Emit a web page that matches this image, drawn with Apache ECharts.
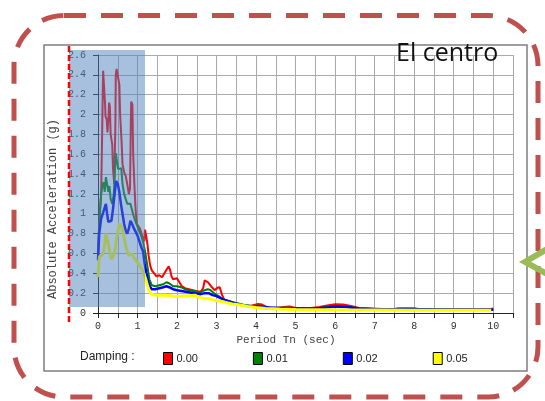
<!DOCTYPE html>
<html>
<head>
<meta charset="utf-8">
<script src="https://cdn.jsdelivr.net/npm/echarts@6/dist/echarts.min.js"></script>
<style>
  html, body { margin: 0; padding: 0; background: #fff; }
  #chart { width: 545px; height: 401px; }
</style>
</head>
<body>
<div id="chart"></div>
<script>
// Response spectra, El Centro record: [period (s), absolute acceleration (g)]
const damping000 = [[0,0.58],[0.02,0.75],[0.05,1.05],[0.08,1.2],[0.1,1.68],[0.12,2.2],[0.13,2.44],[0.17,2.42],[0.18,2.1],[0.19,1.98],[0.22,1.95],[0.24,1.82],[0.27,2.0],[0.28,2.12],[0.30,2.08],[0.32,1.8],[0.36,1.7],[0.38,1.45],[0.41,1.3],[0.44,1.9],[0.45,2.4],[0.47,2.46],[0.52,2.45],[0.54,2.3],[0.56,2.0],[0.58,1.85],[0.60,1.7],[0.62,1.5],[0.66,1.42],[0.70,1.38],[0.74,1.3],[0.78,1.2],[0.81,1.25],[0.83,1.9],[0.84,2.13],[0.87,2.1],[0.89,1.6],[0.92,1.3],[0.95,1.05],[0.98,0.9],[1.02,0.92],[1.06,0.85],[1.10,0.8],[1.14,0.75],[1.17,0.72],[1.19,0.84],[1.22,0.82],[1.25,0.7],[1.28,0.58],[1.32,0.48],[1.36,0.43],[1.42,0.40],[1.48,0.37],[1.55,0.38],[1.62,0.36],[1.68,0.40],[1.74,0.44],[1.79,0.47],[1.82,0.44],[1.86,0.37],[1.9,0.34],[1.95,0.33],[2.0,0.35],[2.05,0.33],[2.12,0.27],[2.2,0.25],[2.3,0.24],[2.4,0.23],[2.5,0.22],[2.6,0.215],[2.66,0.25],[2.7,0.33],[2.78,0.31],[2.86,0.27],[2.95,0.23],[3.02,0.255],[3.08,0.26],[3.14,0.18],[3.2,0.13],[3.3,0.12],[3.45,0.10],[3.6,0.085],[3.8,0.065],[3.95,0.08],[4.05,0.09],[4.15,0.085],[4.3,0.055],[4.5,0.05],[4.7,0.06],[4.85,0.065],[5.0,0.05],[5.3,0.045],[5.6,0.06],[5.8,0.075],[6.0,0.088],[6.2,0.085],[6.4,0.07],[6.6,0.05],[6.9,0.045],[7.2,0.04],[7.5,0.04],[7.6,0.048],[8.0,0.048],[8.1,0.04],[9.0,0.035],[9.9,0.035],[10,0.045]];
const damping001 = [[0,0.6],[0.02,0.8],[0.05,1.0],[0.08,1.2],[0.11,1.28],[0.14,1.32],[0.17,1.22],[0.2,1.37],[0.23,1.3],[0.26,1.22],[0.29,1.28],[0.32,1.15],[0.36,1.1],[0.40,1.2],[0.43,1.45],[0.45,1.61],[0.48,1.6],[0.51,1.45],[0.55,1.47],[0.59,1.46],[0.62,1.3],[0.66,1.2],[0.7,1.15],[0.74,1.1],[0.78,1.12],[0.82,1.1],[0.86,1.04],[0.9,0.98],[0.95,0.92],[1.0,0.87],[1.05,0.82],[1.1,0.77],[1.15,0.70],[1.2,0.6],[1.25,0.47],[1.3,0.34],[1.36,0.28],[1.45,0.27],[1.55,0.28],[1.65,0.29],[1.73,0.31],[1.8,0.3],[1.9,0.27],[2.0,0.27],[2.1,0.26],[2.2,0.24],[2.32,0.23],[2.45,0.22],[2.6,0.21],[2.7,0.23],[2.78,0.24],[2.85,0.23],[2.95,0.195],[3.05,0.17],[3.15,0.14],[3.3,0.12],[3.5,0.10],[3.7,0.08],[3.9,0.07],[4.05,0.075],[4.2,0.06],[4.4,0.05],[4.8,0.055],[5.0,0.048],[5.5,0.045],[5.8,0.06],[6.0,0.07],[6.3,0.065],[6.6,0.045],[7.0,0.04],[8.0,0.04],[9.0,0.035],[10,0.035]];
const damping002 = [[0,0.53],[0.03,0.8],[0.08,0.95],[0.12,1.0],[0.16,1.05],[0.2,1.1],[0.23,1.0],[0.26,0.92],[0.3,0.9],[0.34,0.93],[0.38,1.05],[0.42,1.2],[0.46,1.33],[0.5,1.3],[0.54,1.22],[0.58,1.1],[0.62,1.0],[0.66,0.9],[0.7,0.83],[0.74,0.8],[0.78,0.85],[0.82,0.93],[0.86,0.9],[0.9,0.86],[0.95,0.82],[1.0,0.78],[1.05,0.72],[1.1,0.66],[1.14,0.62],[1.18,0.5],[1.22,0.41],[1.27,0.32],[1.31,0.27],[1.36,0.24],[1.45,0.24],[1.55,0.25],[1.65,0.26],[1.73,0.27],[1.8,0.26],[1.9,0.24],[2.0,0.23],[2.15,0.22],[2.3,0.21],[2.45,0.2],[2.6,0.19],[2.7,0.2],[2.8,0.2],[2.9,0.18],[3.0,0.17],[3.15,0.14],[3.3,0.12],[3.5,0.09],[3.7,0.075],[3.9,0.065],[4.1,0.065],[4.3,0.055],[4.6,0.05],[5.0,0.045],[5.5,0.045],[5.8,0.055],[6.0,0.065],[6.3,0.06],[6.6,0.045],[7.0,0.038],[8.0,0.036],[9.0,0.034],[10,0.033]];
const damping005 = [[0,0.36],[0.02,0.5],[0.04,0.57],[0.1,0.58],[0.14,0.62],[0.17,0.7],[0.2,0.8],[0.23,0.82],[0.26,0.7],[0.3,0.6],[0.34,0.54],[0.38,0.53],[0.42,0.6],[0.46,0.72],[0.5,0.82],[0.55,0.9],[0.59,0.92],[0.62,0.85],[0.66,0.76],[0.7,0.68],[0.74,0.62],[0.78,0.58],[0.82,0.6],[0.86,0.6],[0.9,0.56],[0.96,0.53],[1.0,0.51],[1.05,0.48],[1.1,0.45],[1.15,0.41],[1.2,0.35],[1.25,0.28],[1.3,0.22],[1.35,0.19],[1.45,0.18],[1.55,0.18],[1.7,0.18],[1.85,0.175],[1.95,0.165],[2.1,0.17],[2.3,0.175],[2.45,0.18],[2.55,0.16],[2.7,0.145],[2.85,0.14],[3.0,0.125],[3.2,0.11],[3.4,0.09],[3.6,0.08],[3.8,0.065],[4.0,0.055],[4.25,0.045],[4.6,0.04],[5.0,0.035],[6.0,0.032],[7.0,0.03],[8.0,0.028],[9.0,0.027],[9.95,0.027]];

const seriesNames = ['0.00', '0.01', '0.02', '0.05'];
const seriesColors = ['#ff0000', '#008000', '#0000ff', '#ffff00'];
const seriesWidths = [2, 2, 2.5, 3];
const seriesData = [damping000, damping001, damping002, damping005];

const titleText = 'El centro';
const xAxisTitle = 'Period Tn (sec)';
const yAxisTitle = 'Absolute Acceleration (g)';
const legendTitle = 'Damping :';

const mono = '"Liberation Mono", "DejaVu Sans Mono", monospace';
const sans = '"Liberation Sans", Arial, sans-serif';

const chart = echarts.init(document.getElementById('chart'), null, { renderer: 'canvas' });

chart.setOption({
  animation: false,
  backgroundColor: '#fff',
  grid: { left: 98, right: 32, top: 55, bottom: 88, containLabel: false },
  xAxis: {
    type: 'value', min: 0, max: 10.5, interval: 0.5,
    axisLine: { show: true, lineStyle: { color: '#222', width: 1 } },
    axisTick: { show: true, length: 5, lineStyle: { color: '#222' } },
    axisLabel: {
      margin: 8, fontFamily: mono, fontSize: 10, color: '#333',
      formatter: v => (Math.abs(v - Math.round(v)) < 1e-6 && v <= 10) ? String(Math.round(v)) : ''
    },
    splitLine: { show: true, lineStyle: { color: '#aaa', width: 1 } }
  },
  yAxis: {
    type: 'value', min: 0, max: 2.6, interval: 0.2,
    axisLine: { show: true, lineStyle: { color: '#222', width: 1 } },
    axisTick: { show: true, length: 5, lineStyle: { color: '#222' } },
    axisLabel: { margin: 12, fontFamily: mono, fontSize: 10, color: '#333' },
    splitLine: { show: true, lineStyle: { color: '#aaa', width: 1 } }
  },
  legend: {
    left: 163, top: 352, padding: 0,
    icon: 'rect', itemWidth: 9, itemHeight: 12, itemGap: 55,
    itemStyle: { borderColor: '#000', borderWidth: 1 },
    textStyle: { fontFamily: sans, fontSize: 11, color: '#222', padding: [0, 0, 0, -1] },
    data: seriesNames
  },
  series: seriesNames.map((name, i) => ({
    name: name,
    type: 'line',
    data: seriesData[i],
    showSymbol: false,
    symbol: 'none',
    color: seriesColors[i],
    lineStyle: { color: seriesColors[i], width: seriesWidths[i] },
    z: 2 + i
  })),
  graphic: [
    // dashed rounded frame around the panel
    { type: 'rect', z: -10, silent: true,
      shape: { x: 14, y: 15.5, width: 524, height: 381.5, r: 50 },
      style: { fill: 'none', stroke: '#c0504d', lineWidth: 5, lineDash: [22, 15] } },
    // panel border
    { type: 'rect', z: -5, silent: true,
      shape: { x: 44, y: 45, width: 483, height: 326 },
      style: { fill: '#fff', stroke: '#7f7f7f', lineWidth: 1.5 } },
    // highlighted short-period band
    { type: 'rect', z: 100, silent: true,
      shape: { x: 69, y: 50, width: 76, height: 257 },
      style: { fill: 'rgba(79,129,189,0.5)' } },
    // red dashed marker line
    { type: 'line', z: 101, silent: true,
      shape: { x1: 69, y1: 46, x2: 69, y2: 323 },
      style: { stroke: '#ff0000', lineWidth: 2.5, lineDash: [6, 3] } },
    // title
    { type: 'text', z: 50, left: 396, top: 41,
      style: { text: titleText, fontFamily: '"Open Sans", "Noto Sans", sans-serif', fontSize: 25, fill: '#111' } },
    // axis titles
    { type: 'text', z: 50, x: 52.5, y: 209, rotation: Math.PI / 2,
      style: { text: yAxisTitle, fontFamily: mono, fontSize: 12, fill: '#444', align: 'center', verticalAlign: 'middle' } },
    { type: 'text', z: 50, x: 286, y: 340,
      style: { text: xAxisTitle, fontFamily: mono, fontSize: 11, fill: '#444', align: 'center', verticalAlign: 'middle' } },
    { type: 'text', z: 50, x: 80, y: 357,
      style: { text: legendTitle, fontFamily: sans, fontSize: 12, fill: '#222', align: 'left', verticalAlign: 'middle' } },
    // navigation chevron on the right edge
    { type: 'polyline', z: 102, silent: true,
      shape: { points: [[547, 249], [525, 262], [547, 274]] },
      style: { stroke: '#9bbb59', lineWidth: 6, fill: 'none', lineJoin: 'miter' } }
  ]
});
</script>
</body>
</html>
